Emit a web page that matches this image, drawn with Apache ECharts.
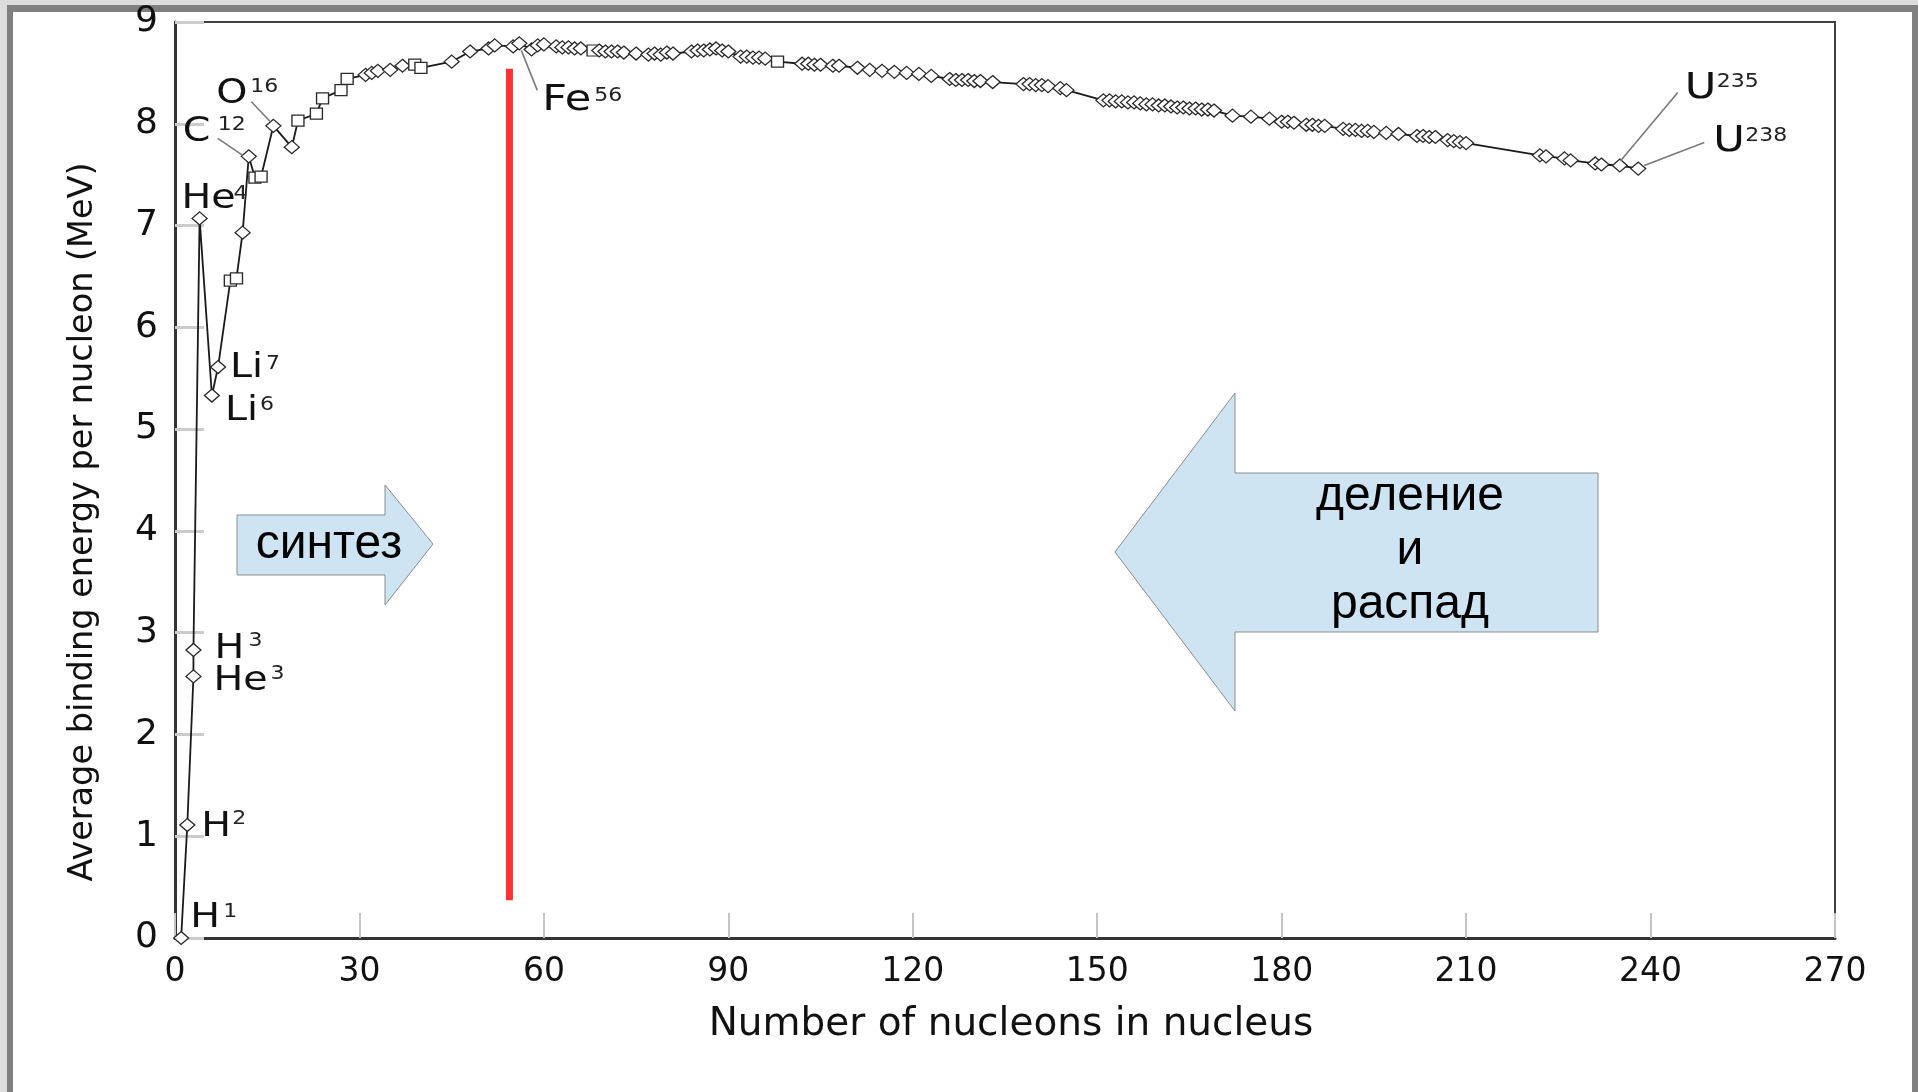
<!DOCTYPE html>
<html>
<head>
<meta charset="utf-8">
<script src="https://cdn.jsdelivr.net/npm/echarts@6/dist/echarts.min.js"></script>
<style>
  html, body { margin: 0; padding: 0; background: #ffffff; }
  #chart { width: 1918px; height: 1092px; }
</style>
</head>
<body>
<div id="chart"></div>
<script>
// Mass number A of each nucleus, in the order the curve is drawn
const massNumber = [
  1, 2, 3, 3, 4, 6, 7, 9, 10, 11,
  12, 13, 14, 16, 19, 20, 23, 24, 27, 28,
  31, 32, 33, 35, 37, 39, 40, 45, 48, 51,
  52, 55, 56, 58, 59, 60, 62, 63, 64, 65,
  66, 68, 69, 70, 71, 72, 73, 75, 77, 78,
  79, 80, 81, 84, 85, 86, 87, 88, 89, 90,
  92, 93, 94, 95, 96, 98, 102, 103, 104, 105,
  107, 108, 111, 113, 115, 117, 119, 121, 123, 126,
  127, 128, 129, 130, 131, 133, 138, 139, 140, 141,
  142, 144, 145, 151, 152, 153, 154, 155, 156, 157,
  158, 159, 160, 161, 162, 163, 164, 165, 166, 167,
  168, 169, 172, 175, 178, 180, 181, 182, 184, 185,
  186, 187, 190, 191, 192, 193, 194, 195, 197, 199,
  202, 203, 204, 205, 207, 208, 209, 210, 222, 223,
  226, 227, 231, 232, 235, 238
];

// Average binding energy per nucleon, MeV
const bindingPerNucleon = [
  0, 1.11, 2.57, 2.83, 7.07, 5.33, 5.61, 6.46, 6.48, 6.93,
  7.68, 7.47, 7.48, 7.98, 7.77, 8.03, 8.10, 8.25, 8.33, 8.44,
  8.48, 8.50, 8.52, 8.53, 8.57, 8.58, 8.55, 8.61, 8.71, 8.74,
  8.77, 8.76, 8.79, 8.73, 8.77, 8.78, 8.76, 8.75, 8.75, 8.74,
  8.74, 8.72, 8.72, 8.71, 8.71, 8.71, 8.70, 8.69, 8.68, 8.69,
  8.68, 8.70, 8.69, 8.71, 8.72, 8.72, 8.73, 8.74, 8.72, 8.71,
  8.66, 8.66, 8.65, 8.65, 8.64, 8.61, 8.59, 8.59, 8.58, 8.58,
  8.57, 8.57, 8.55, 8.53, 8.52, 8.51, 8.50, 8.49, 8.47, 8.44,
  8.43, 8.43, 8.43, 8.42, 8.42, 8.41, 8.39, 8.39, 8.38, 8.38,
  8.37, 8.35, 8.33, 8.23, 8.23, 8.22, 8.22, 8.21, 8.21, 8.20,
  8.19, 8.19, 8.18, 8.18, 8.17, 8.16, 8.16, 8.15, 8.15, 8.14,
  8.14, 8.13, 8.08, 8.07, 8.05, 8.02, 8.02, 8.01, 7.99, 7.99,
  7.98, 7.98, 7.95, 7.94, 7.94, 7.93, 7.93, 7.92, 7.91, 7.90,
  7.88, 7.88, 7.87, 7.87, 7.84, 7.83, 7.82, 7.81, 7.69, 7.68,
  7.66, 7.64, 7.61, 7.60, 7.59, 7.56
];

// Nuclei taken from the second data set (drawn as squares)
const squareSetMasses = [9, 10, 13, 14, 20, 23, 24, 27, 28, 39, 40, 68, 98];

// Named nuclei: element symbol, mass number, index of the point in the arrays above
const isotopeLabels = [
  { sym: 'H',  mass: '1',   point: 0 },
  { sym: 'H',  mass: '2',   point: 1 },
  { sym: 'He', mass: '3',   point: 2 },
  { sym: 'H',  mass: '3',   point: 3 },
  { sym: 'He', mass: '4',   point: 4 },
  { sym: 'Li', mass: '6',   point: 5 },
  { sym: 'Li', mass: '7',   point: 6 },
  { sym: 'C',  mass: '12',  point: 10 },
  { sym: 'O',  mass: '16',  point: 13 },
  { sym: 'Fe', mass: '56',  point: 32 },
  { sym: 'U',  mass: '235', point: 144 },
  { sym: 'U',  mass: '238', point: 145 }
];

// Iron-peak marker: mass number and energy range it spans
const ironMarkerMass = 54.4;
const ironMarkerRange = [0.37, 8.54];

// Axis ticks
const xTicks = { min: 0, max: 270, step: 30 };
const yTicks = { min: 0, max: 9, step: 1 };

const axisTitles = {
  x: 'Number of nucleons in nucleus',
  y: 'Average binding energy per nucleon (MeV)'
};
const arrowTexts = { fusion: 'синтез', fission: 'деление\nи\nраспад' };

// ---- layout & styling ----
const curvePoints = massNumber.map((a, i) => {
  const square = squareSetMasses.indexOf(a) !== -1 && i > 4;
  return {
    value: [a, bindingPerNucleon[i]],
    symbol: square ? 'rect' : 'diamond',
    symbolSize: square ? [12, 11] : [15, 13]
  };
});

// Label placement relative to its point (pixels): symbol text, superscript, leader line
const labelLayout = {
  'H1':   { m: [9, -20],   s: [42, -26] },
  'H2':   { m: [14, 2],    s: [45, -6] },
  'He3':  { m: [20, 5],    s: [77, -3] },
  'H3':   { m: [21, -1],   s: [55, -9] },
  'He4':  { m: [-18, -19], s: [34, -25] },
  'Li6':  { m: [13, 16],   s: [48, 9] },
  'Li7':  { m: [12, 1],    s: [48, -3] },
  'C12':  { m: [-66, -24], s: [-31, -32], line: [-31, -18, -6, -1] },
  'O16':  { m: [-57, -31], s: [-23, -39], line: [-22, -24, -3, -4] },
  'Fe56': { m: [23, 57],   s: [75, 52],   line: [2, 7, 18, 47], big: true },
  'U235': { m: [65, -77],  s: [97, -84],  line: [1, -5, 58, -73], big: true },
  'U238': { m: [75, -27],  s: [107, -33], line: [6, -3, 66, -26], big: true }
};

const AXIS_FONT = '"DejaVu Sans", sans-serif';
const ARROW_FONT = '"Liberation Sans", Arial, sans-serif';

const chart = echarts.init(document.getElementById('chart'), null, { renderer: 'canvas' });

chart.setOption({
  animation: false,
  backgroundColor: '#ffffff',
  grid: {
    left: 175, right: 83, top: 22, bottom: 154,
    show: true, borderColor: '#404040', borderWidth: 2, backgroundColor: '#ffffff'
  },
  xAxis: {
    type: 'value',
    min: xTicks.min, max: xTicks.max, interval: xTicks.step,
    name: axisTitles.x,
    nameLocation: 'middle', nameGap: 67,
    nameTextStyle: { fontFamily: AXIS_FONT, fontSize: 39, color: '#111', padding: [0, 0, 0, 12] },
    axisLine: { show: true, onZero: false, lineStyle: { color: '#333', width: 3 } },
    axisTick: { show: true, inside: true, length: 25, lineStyle: { color: '#c4c4c4', width: 2 } },
    axisLabel: { fontFamily: AXIS_FONT, fontSize: 33, color: '#111', margin: 18 },
    splitLine: { show: false }
  },
  yAxis: {
    type: 'value',
    min: yTicks.min, max: yTicks.max, interval: yTicks.step,
    axisLine: { show: true, lineStyle: { color: '#333', width: 3 } },
    axisTick: { show: true, inside: true, length: 29, lineStyle: { color: '#cccccc', width: 3 } },
    axisLabel: { fontFamily: AXIS_FONT, fontSize: 36, color: '#111', margin: 17 },
    splitLine: { show: false }
  },
  series: [
    {
      type: 'line',
      data: curvePoints,
      z: 4,
      lineStyle: { color: '#1a1a1a', width: 1.8 },
      itemStyle: { color: '#ffffff', borderColor: '#2a2a2a', borderWidth: 1.3 },
      showSymbol: true,
      symbol: 'diamond',
      emphasis: { disabled: true }
    },
    {
      type: 'line',
      data: [[ironMarkerMass, ironMarkerRange[0]], [ironMarkerMass, ironMarkerRange[1]]],
      z: 3,
      showSymbol: false,
      symbol: 'none',
      lineStyle: { color: '#ff3333', width: 7, cap: 'butt' },
      emphasis: { disabled: true }
    }
  ]
});

// Annotations: page frame, axis title, direction arrows, nucleus names
function buildGraphics() {
  const g = [];
  // page frame
  g.push({ type: 'rect', z: -20, silent: true, shape: { x: 0, y: 0, width: 1918, height: 1092 }, style: { fill: '#dcdcdc' } });
  g.push({ type: 'rect', z: -19, silent: true, shape: { x: 7, y: 5, width: 1911, height: 1087 }, style: { fill: '#808080' } });
  g.push({ type: 'rect', z: -18, silent: true, shape: { x: 13, y: 12, width: 1899, height: 1080 }, style: { fill: '#ffffff' } });

  // vertical axis title
  g.push({
    type: 'text', z: 12, silent: true, x: 83, y: 522, rotation: Math.PI / 2,
    style: { text: axisTitles.y, x: 0, y: 0, align: 'center', verticalAlign: 'middle',
             fontFamily: AXIS_FONT, fontSize: 33.5, fill: '#111' }
  });

  const arrowStyle = { fill: '#cfe4f2', stroke: '#8c8c8c', lineWidth: 1 };
  g.push({
    type: 'polygon', z: 10, silent: true,
    shape: { points: [[237, 515], [385, 515], [385, 485], [433, 544], [385, 605], [385, 575], [237, 575]] },
    style: arrowStyle
  });
  g.push({
    type: 'text', z: 11, silent: true,
    style: { text: arrowTexts.fusion, x: 329, y: 545, align: 'center', verticalAlign: 'middle',
             fontFamily: ARROW_FONT, fontSize: 48, fill: '#000' }
  });
  g.push({
    type: 'polygon', z: 10, silent: true,
    shape: { points: [[1598, 473], [1235, 473], [1235, 393], [1115, 552], [1235, 711], [1235, 632], [1598, 632]] },
    style: arrowStyle
  });
  g.push({
    type: 'text', z: 11, silent: true,
    style: { text: arrowTexts.fission, x: 1410, y: 551, align: 'center', verticalAlign: 'middle',
             fontFamily: ARROW_FONT, fontSize: 48, lineHeight: 54, fill: '#000' }
  });

  isotopeLabels.forEach(lbl => {
    const i = lbl.point;
    const p = chart.convertToPixel({ gridIndex: 0 }, [massNumber[i], bindingPerNucleon[i]]);
    const lay = labelLayout[lbl.sym + lbl.mass];
    if (lay.line) {
      g.push({
        type: 'line', z: 6, silent: true,
        shape: { x1: p[0] + lay.line[0], y1: p[1] + lay.line[1], x2: p[0] + lay.line[2], y2: p[1] + lay.line[3] },
        style: { stroke: '#7a7a7a', lineWidth: 1.6 }
      });
    }
    // element symbol, drawn a little wide
    g.push({
      type: 'text', z: 12, silent: true,
      x: p[0] + lay.m[0], y: p[1] + lay.m[1], scaleX: 1.2,
      style: { text: lbl.sym, x: 0, y: 0, align: 'left', verticalAlign: 'middle',
               fontFamily: AXIS_FONT, fontSize: lay.big ? 36 : 33, fill: '#111' }
    });
    // mass number superscript
    g.push({
      type: 'text', z: 12, silent: true,
      x: p[0] + lay.s[0], y: p[1] + lay.s[1], scaleX: 1.1,
      style: { text: lbl.mass, x: 0, y: 0, align: 'left', verticalAlign: 'middle',
               fontFamily: AXIS_FONT, fontSize: 20, fill: '#222' }
    });
  });
  return g;
}

chart.setOption({ graphic: buildGraphics() });
</script>
</body>
</html>
